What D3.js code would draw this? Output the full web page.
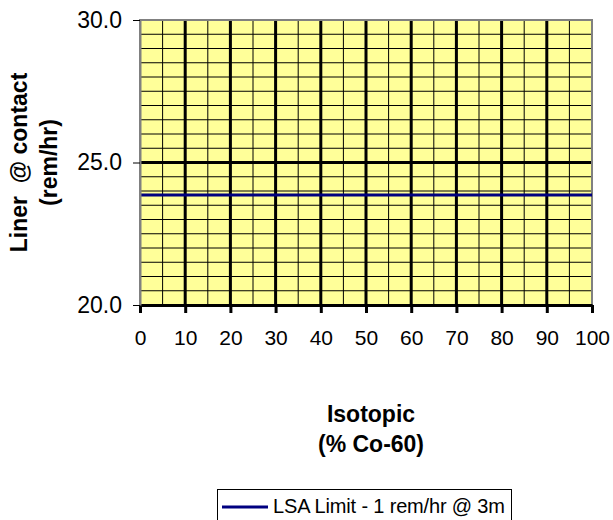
<!DOCTYPE html>
<html>
<head>
<meta charset="utf-8">
<script src="https://cdn.jsdelivr.net/npm/d3@7"></script>
<style>
  html, body { margin: 0; padding: 0; background: #fff; }
  svg { display: block; font-family: "Liberation Sans", Arial, sans-serif; }
</style>
</head>
<body>
<svg id="chart" width="613" height="520"></svg>
<script>
// chart data
const isotopicPct = [0, 10, 20, 30, 40, 50, 60, 70, 80, 90, 100];
const lsaLimit = [23.86, 23.86, 23.86, 23.86, 23.86, 23.86, 23.86, 23.86, 23.86, 23.86, 23.86];
const seriesName = "LSA Limit - 1 rem/hr @ 3m";
const xTickLabels = ["0", "10", "20", "30", "40", "50", "60", "70", "80", "90", "100"];
const yTicks = [20, 25, 30];
const yTitle = ["Liner  @ contact", "(rem/hr)"];
const xTitle = ["Isotopic", "(% Co-60)"];

/* plot box in page pixels */
const plot = { left: 140, right: 592, top: 20, bottom: 305 };

const svg = d3.select("#chart");
const x = d3.scaleLinear().domain([0, 100]).range([plot.left, plot.right]);
const y = d3.scaleLinear().domain([20, 30]).range([plot.bottom, plot.top]);

// background
svg.append("rect")
  .attr("x", plot.left)
  .attr("y", plot.top)
  .attr("width", plot.right - plot.left)
  .attr("height", plot.bottom - plot.top)
  .attr("fill", "#ffff99");

// minor grid: every 5 on x, every 0.5 on y
const gridG = svg.append("g").attr("class", "grid");
gridG.selectAll(".vminor")
  .data(d3.range(5, 100, 5))
  .join("line")
  .attr("x1", (d) => x(d)).attr("x2", (d) => x(d))
  .attr("y1", plot.top).attr("y2", plot.bottom)
  .attr("stroke", "#000").attr("stroke-width", 1);
gridG.selectAll(".hminor")
  .data(d3.range(20.5, 30, 0.5))
  .join("line")
  .attr("x1", plot.left).attr("x2", plot.right)
  .attr("y1", (d) => y(d)).attr("y2", (d) => y(d))
  .attr("stroke", "#000").attr("stroke-width", 1);

// major grid
gridG.selectAll(".vmajor")
  .data(isotopicPct.filter((d) => d > 0 && d < 100))
  .join("line")
  .attr("x1", (d) => x(d)).attr("x2", (d) => x(d))
  .attr("y1", plot.top).attr("y2", plot.bottom)
  .attr("stroke", "#000").attr("stroke-width", 3);
gridG.selectAll(".hmajor")
  .data(yTicks.filter((d) => d > 20 && d < 30))
  .join("line")
  .attr("x1", plot.left).attr("x2", plot.right)
  .attr("y1", (d) => y(d)).attr("y2", (d) => y(d))
  .attr("stroke", "#000").attr("stroke-width", 3);

// plot border (gray, Excel style)
svg.append("rect")
  .attr("x", plot.left)
  .attr("y", plot.top)
  .attr("width", plot.right - plot.left)
  .attr("height", plot.bottom - plot.top)
  .attr("fill", "none")
  .attr("stroke", "#808080")
  .attr("stroke-width", 2);

// series line
const line = d3.line()
  .x((d, i) => x(isotopicPct[i]))
  .y((d) => y(d));
svg.append("path")
  .datum(lsaLimit)
  .attr("d", line)
  .attr("fill", "none")
  .attr("stroke", "#000080")
  .attr("stroke-width", 3);

// x axis
const xAxis = d3.axisBottom(x)
  .tickValues(isotopicPct)
  .tickFormat((d, i) => xTickLabels[i])
  .tickSize(8)
  .tickSizeOuter(0);
const xAxisG = svg.append("g")
  .attr("transform", `translate(0,${plot.bottom})`)
  .call(xAxis);
xAxisG.select(".domain").attr("stroke", "#000").attr("stroke-width", 3);
xAxisG.selectAll(".tick line").attr("stroke", "#000").attr("stroke-width", 3);
xAxisG.selectAll(".tick text")
  .attr("y", 40)
  .attr("dy", null)
  .attr("fill", "#000")
  .attr("font-size", 21)
  .attr("font-family", "Liberation Sans, Arial, sans-serif");

// y axis
const yAxis = d3.axisLeft(y)
  .tickValues(yTicks)
  .tickFormat(d3.format(".1f"))
  .tickSize(7)
  .tickPadding(11)
  .tickSizeOuter(0);
const yAxisG = svg.append("g")
  .attr("transform", `translate(${plot.left},0)`)
  .call(yAxis);
yAxisG.select(".domain").attr("stroke", "#808080").attr("stroke-width", 2);
yAxisG.selectAll(".tick line").attr("stroke", "#000").attr("stroke-width", 1);
yAxisG.selectAll(".tick text")
  .attr("fill", "#000")
  .attr("font-size", 23)
  .attr("font-family", "Liberation Sans, Arial, sans-serif");

// axis titles
const yTitleG = svg.append("g")
  .attr("transform", `translate(0,${(plot.top + plot.bottom) / 2}) rotate(-90)`);
yTitleG.selectAll("text")
  .data(yTitle)
  .join("text")
  .attr("x", 0)
  .attr("y", (d, i) => 27 + i * 30)
  .attr("text-anchor", "middle")
  .attr("font-weight", "bold")
  .attr("font-size", 23)
  .attr("xml:space", "preserve")
  .style("white-space", "pre")
  .text((d) => d);

svg.append("g").selectAll("text")
  .data(xTitle)
  .join("text")
  .attr("x", 371)
  .attr("y", (d, i) => 422 + i * 30)
  .attr("text-anchor", "middle")
  .attr("font-weight", "bold")
  .attr("font-size", 23)
  .text((d) => d);

// legend
const legendG = svg.append("g");
legendG.append("rect")
  .attr("x", 217.5)
  .attr("y", 489.5)
  .attr("width", 294)
  .attr("height", 40)
  .attr("fill", "#fff")
  .attr("stroke", "#000")
  .attr("stroke-width", 1);
legendG.append("line")
  .attr("x1", 222).attr("x2", 268)
  .attr("y1", 507).attr("y2", 507)
  .attr("stroke", "#000080")
  .attr("stroke-width", 3);
legendG.append("text")
  .attr("x", 273)
  .attr("y", 513)
  .attr("font-size", 20)
  .attr("textLength", 232)
  .text(seriesName);
</script>
</body>
</html>
